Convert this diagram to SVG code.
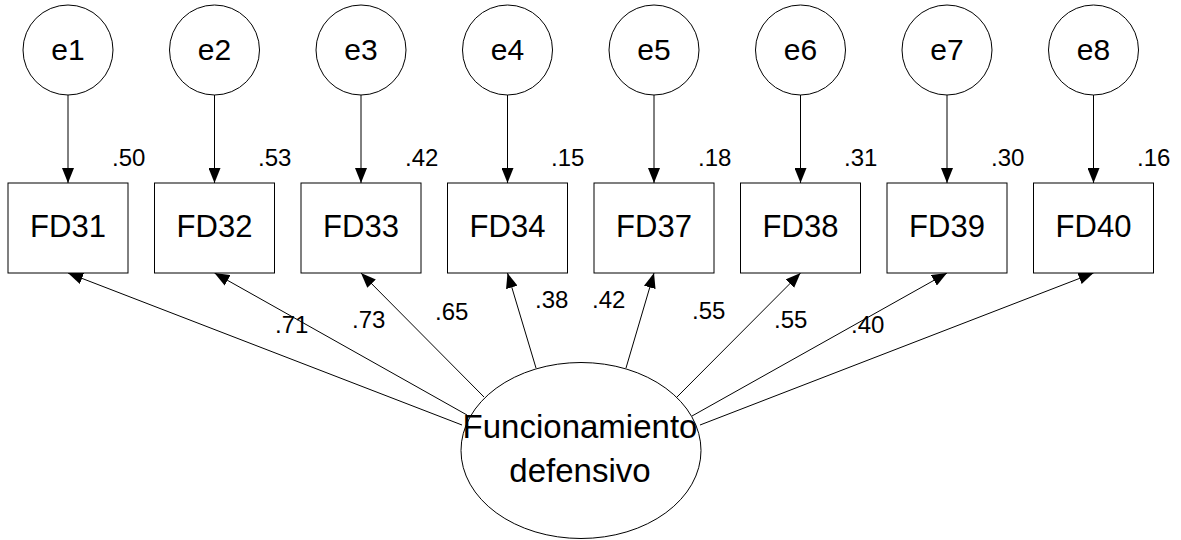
<svg xmlns="http://www.w3.org/2000/svg" width="1181" height="540" viewBox="0 0 1181 540">
<style>
.n{fill:#fff;stroke:#000;stroke-width:1}
.t{font-family:"Liberation Sans",Arial,sans-serif;fill:#000}
.lb{font-size:31px;text-anchor:middle}
.big{font-size:33px;text-anchor:middle}
.ct{font-size:30px;text-anchor:middle}
.num{font-size:24px}
.c line{stroke:#000;stroke-width:1;marker-end:url(#ah)}
</style>
<defs>
<marker id="ah" markerUnits="userSpaceOnUse" viewBox="0 0 15 12" refX="15" refY="6" markerWidth="15" markerHeight="12" orient="auto">
<path d="M0,0 L15,6 L0,12 z" fill="#000"/>
</marker>
</defs>
<rect width="1181" height="540" fill="#fff"/>
<g class="c" id="connectors">
<line x1="68" y1="95" x2="68" y2="183"/>
<line x1="214.5" y1="95" x2="214.5" y2="183"/>
<line x1="361" y1="95" x2="361" y2="183"/>
<line x1="507.5" y1="95" x2="507.5" y2="183"/>
<line x1="654" y1="95" x2="654" y2="183"/>
<line x1="800.5" y1="95" x2="800.5" y2="183"/>
<line x1="947" y1="95" x2="947" y2="183"/>
<line x1="1093.5" y1="95" x2="1093.5" y2="183"/>
<line x1="462" y1="425" x2="68" y2="273"/>
<line x1="467" y1="415" x2="214.5" y2="273"/>
<line x1="484" y1="397" x2="361" y2="273"/>
<line x1="536" y1="368" x2="507.5" y2="273"/>
<line x1="626" y1="368" x2="654" y2="273"/>
<line x1="677" y1="397" x2="800.5" y2="273"/>
<line x1="692" y1="416" x2="947" y2="273"/>
<line x1="700" y1="425" x2="1093.5" y2="273"/>
</g>
<g id="e1"><circle class="n" cx="68" cy="50" r="45"/><text class="t ct" x="68" y="60">e1</text></g>
<g id="e2"><circle class="n" cx="214.5" cy="50" r="45"/><text class="t ct" x="214.5" y="60">e2</text></g>
<g id="e3"><circle class="n" cx="361" cy="50" r="45"/><text class="t ct" x="361" y="60">e3</text></g>
<g id="e4"><circle class="n" cx="507.5" cy="50" r="45"/><text class="t ct" x="507.5" y="60">e4</text></g>
<g id="e5"><circle class="n" cx="654" cy="50" r="45"/><text class="t ct" x="654" y="60">e5</text></g>
<g id="e6"><circle class="n" cx="800.5" cy="50" r="45"/><text class="t ct" x="800.5" y="60">e6</text></g>
<g id="e7"><circle class="n" cx="947" cy="50" r="45"/><text class="t ct" x="947" y="60">e7</text></g>
<g id="e8"><circle class="n" cx="1093.5" cy="50" r="45"/><text class="t ct" x="1093.5" y="60">e8</text></g>
<g id="FD31"><rect class="n" x="8" y="183" width="120" height="90"/><text class="t lb" x="68" y="237">FD31</text><text class="t num" x="112" y="166">.50</text></g>
<g id="FD32"><rect class="n" x="154.5" y="183" width="120" height="90"/><text class="t lb" x="214.5" y="237">FD32</text><text class="t num" x="258" y="166">.53</text></g>
<g id="FD33"><rect class="n" x="301" y="183" width="120" height="90"/><text class="t lb" x="361" y="237">FD33</text><text class="t num" x="405" y="166">.42</text></g>
<g id="FD34"><rect class="n" x="447.5" y="183" width="120" height="90"/><text class="t lb" x="507.5" y="237">FD34</text><text class="t num" x="551" y="166">.15</text></g>
<g id="FD37"><rect class="n" x="594" y="183" width="120" height="90"/><text class="t lb" x="654" y="237">FD37</text><text class="t num" x="698" y="166">.18</text></g>
<g id="FD38"><rect class="n" x="740.5" y="183" width="120" height="90"/><text class="t lb" x="800.5" y="237">FD38</text><text class="t num" x="844" y="166">.31</text></g>
<g id="FD39"><rect class="n" x="887" y="183" width="120" height="90"/><text class="t lb" x="947" y="237">FD39</text><text class="t num" x="991" y="166">.30</text></g>
<g id="FD40"><rect class="n" x="1033.5" y="183" width="120" height="90"/><text class="t lb" x="1093.5" y="237">FD40</text><text class="t num" x="1137" y="166">.16</text></g>
<g id="Funcionamiento"><ellipse cx="581" cy="450.5" rx="120" ry="88" fill="none" stroke="#000" stroke-width="1"/><text class="t big" x="580" y="438">Funcionamiento</text><text class="t big" x="580" y="482">defensivo</text></g>
<g id="loadings" class="t num">
<text x="275" y="333">.71</text>
<text x="352" y="328">.73</text>
<text x="435" y="320">.65</text>
<text x="535" y="308">.38</text>
<text x="592" y="308">.42</text>
<text x="692" y="319">.55</text>
<text x="774" y="328">.55</text>
<text x="851" y="333">.40</text>
</g>
</svg>
